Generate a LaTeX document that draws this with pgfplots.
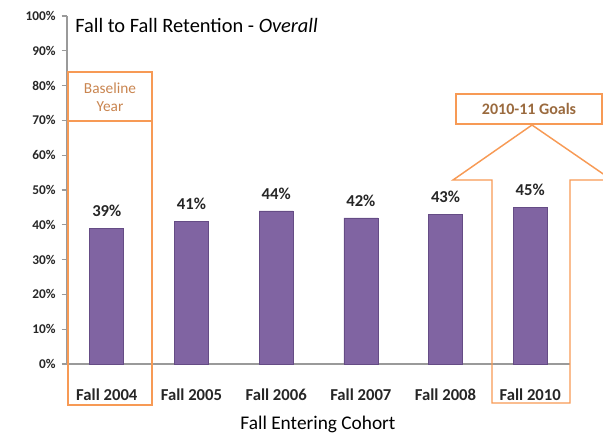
\documentclass[border=0pt]{standalone}
\usepackage{fontspec}
\setmainfont{Carlito}
\usepackage{pgfplots}
\pgfplotsset{compat=1.18}
\definecolor{barpurple}{HTML}{8064A2}
\definecolor{bardark}{HTML}{654C85}
\definecolor{boxorange}{HTML}{F79A55}
\definecolor{txtorange}{HTML}{C98550}
\definecolor{txtbrown}{HTML}{9A6A3E}
\definecolor{axisgray}{HTML}{9A9A9A}
\definecolor{labeltxt}{HTML}{262626}
\begin{document}
\begin{tikzpicture}
% page frame in pixel units of the reference
\begin{scope}[x=0.75pt,y=-0.75pt]
\path[use as bounding box] (0,0) rectangle (603,433);
\end{scope}
\begin{axis}[
    at={(50.25pt,-273pt)}, anchor=south west,
    scale only axis,
    width=377.25pt, height=261pt,
    xmin=-0.47, xmax=5.47, ymin=0, ymax=100,
    ybar, bar width=25.5pt,
    axis x line*=bottom, axis y line*=left,
    x axis line style={-, draw=axisgray, line width=0.8pt},
    y axis line style={-, draw=axisgray, line width=0.8pt},
    xtick=data,
    xticklabels={Fall 2004, Fall 2005, Fall 2006, Fall 2007, Fall 2008, Fall 2010},
    xtick style={draw=none},
    xticklabel style={font=\fontsize{12.5}{14}\selectfont\bfseries, text=labeltxt, yshift=-11pt},
    ytick={0,10,...,100},
    yticklabel={\pgfmathprintnumber{\tick}\%},
    yticklabel style={font=\fontsize{10}{12}\selectfont\bfseries, text=labeltxt, xshift=-1pt},
    ytick style={draw=axisgray, line width=0.8pt},
    tick align=outside, major tick length=4pt,
    /pgf/number format/assume math mode=true,
    nodes near coords={\pgfmathprintnumber{\pgfplotspointmeta}\%},
    every node near coord/.append style={font=\fontsize{12.5}{14}\selectfont\bfseries, text=labeltxt, yshift=5pt},
    clip=false,
]
\addplot[fill=barpurple, draw=bardark, line width=0.5pt] coordinates {(0,39)(1,41)(2,44)(3,42)(4,43)(5,45)};
\end{axis}
\begin{scope}[x=0.75pt,y=-0.75pt]
% baseline year boxes
\draw[boxorange, line width=1.1pt] (68,72) rectangle (152,121);
\draw[boxorange, line width=1.1pt] (68,121) rectangle (152,405);
\node[text=txtorange, align=center, font=\fontsize{11.5}{13.5}\selectfont] at (110,97) {Baseline\\Year};
% goals arrow
\draw[boxorange, line width=1.1pt] (456,94) rectangle (602,124);
\node[text=txtbrown, font=\fontsize{12}{14}\selectfont\bfseries] at (529,109) {2010-11 Goals};
\begin{scope}
\clip (0,0) rectangle (603,433);
\draw[boxorange, line width=1.1pt] (532,125) -- (453,180) -- (492,180) -- (492,403) -- (570,403) -- (570,180) -- (612,180) -- cycle;
\end{scope}
% title and axis label
\node[anchor=base west, inner sep=0pt, text=black, font=\fontsize{15.3}{17}\selectfont] at (75,32) {Fall to Fall Retention - \textit{Overall}};
\node[inner sep=0pt, text=black, font=\fontsize{14.5}{16}\selectfont] at (318,424) {Fall Entering Cohort};
\end{scope}
\end{tikzpicture}
\end{document}
